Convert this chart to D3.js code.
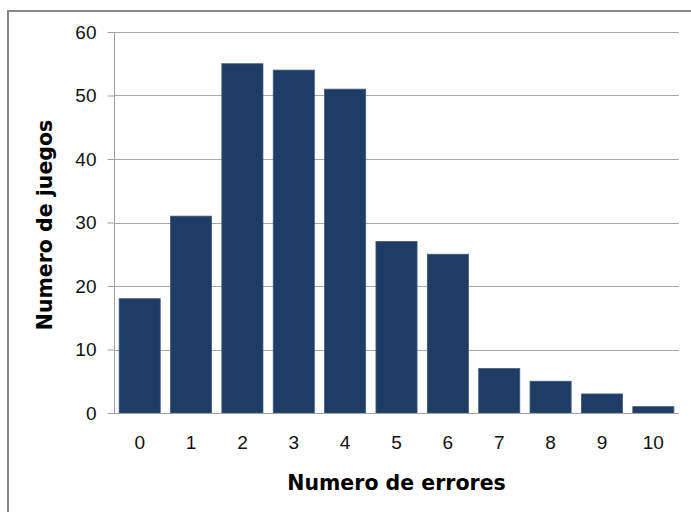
<!DOCTYPE html>
<html><head><meta charset="utf-8">
<script src="https://cdn.jsdelivr.net/npm/d3@7"></script>
<style>html,body{margin:0;padding:0;background:#fff;}svg{display:block;}</style>
</head><body>
<script>
const categories = ["0","1","2","3","4","5","6","7","8","9","10"];
const values = [18, 31, 55, 54, 51, 27, 25, 7, 5, 3, 1];
const yTicks = [0, 10, 20, 30, 40, 50, 60];
const xTitle = "Numero de errores";
const yTitle = "Numero de juegos";

(function () {
const W = 691, H = 512;
const svg = d3.select("body").append("svg").attr("width", W).attr("height", H);

// outer border
svg.append("rect").attr("x", 8).attr("y", 11).attr("width", W + 10).attr("height", H + 10)
  .attr("fill", "#fff").attr("stroke", "#878787").attr("stroke-width", 2);

const pL = 114, pR = 679, pT = 32, pB = 413;
const x = d3.scaleBand().domain(categories).range([pL, pR]).paddingInner(0.2).paddingOuter(0.1);
const y = d3.scaleLinear().domain([0, 60]).range([pB, pT]);

// gridlines
svg.append("g").selectAll("line").data(yTicks.filter(d => d > 0)).join("line")
  .attr("x1", pL).attr("x2", pR)
  .attr("y1", d => Math.round(y(d)) + 0.5).attr("y2", d => Math.round(y(d)) + 0.5)
  .attr("stroke", "#a6a6a6").attr("stroke-width", 1);

// bars
svg.append("g").selectAll("rect").data(values).join("rect")
  .attr("x", (d, i) => x(categories[i]))
  .attr("y", d => y(d))
  .attr("width", x.bandwidth())
  .attr("height", d => y(0) - y(d))
  .attr("fill", "#1f3c65").attr("stroke", "#3b5a82").attr("stroke-width", 0.8);

// y axis
const yAxis = d3.axisLeft(y).tickValues(yTicks).tickSize(7).tickPadding(11);
const gy = svg.append("g").attr("transform", `translate(${pL + 0.5},0)`).call(yAxis);
gy.select(".domain").attr("stroke", "#a0a0a0").attr("d", `M0,${pT}V${pB}`);
gy.selectAll(".tick line").attr("stroke", "#a0a0a0");
gy.selectAll(".tick text").attr("font-family", "'Liberation Sans', Arial, sans-serif")
  .attr("font-size", 19).attr("fill", "#111");

// x axis
const xAxis = d3.axisBottom(x).tickSize(0).tickPadding(22);
const gx = svg.append("g").attr("transform", `translate(0,${pB + 0.5})`).call(xAxis);
gx.select(".domain").attr("stroke", "#a0a0a0").attr("d", `M${pL},0H${pR}`);
gx.selectAll(".tick text").attr("font-family", "'Liberation Sans', Arial, sans-serif")
  .attr("font-size", 19).attr("fill", "#111");

// titles
svg.append("text").attr("x", (pL + pR) / 2).attr("y", 490).attr("text-anchor", "middle")
  .attr("font-family", "'DejaVu Sans', Tahoma, sans-serif").attr("font-weight", "bold")
  .attr("font-size", 20.5).attr("fill", "#000").text(xTitle);
svg.append("text").attr("transform", "translate(52,225) rotate(-90)").attr("text-anchor", "middle")
  .attr("font-family", "'DejaVu Sans', Tahoma, sans-serif").attr("font-weight", "bold")
  .attr("font-size", 20.5).attr("fill", "#000").text(yTitle);
})();
</script>
</body></html>
